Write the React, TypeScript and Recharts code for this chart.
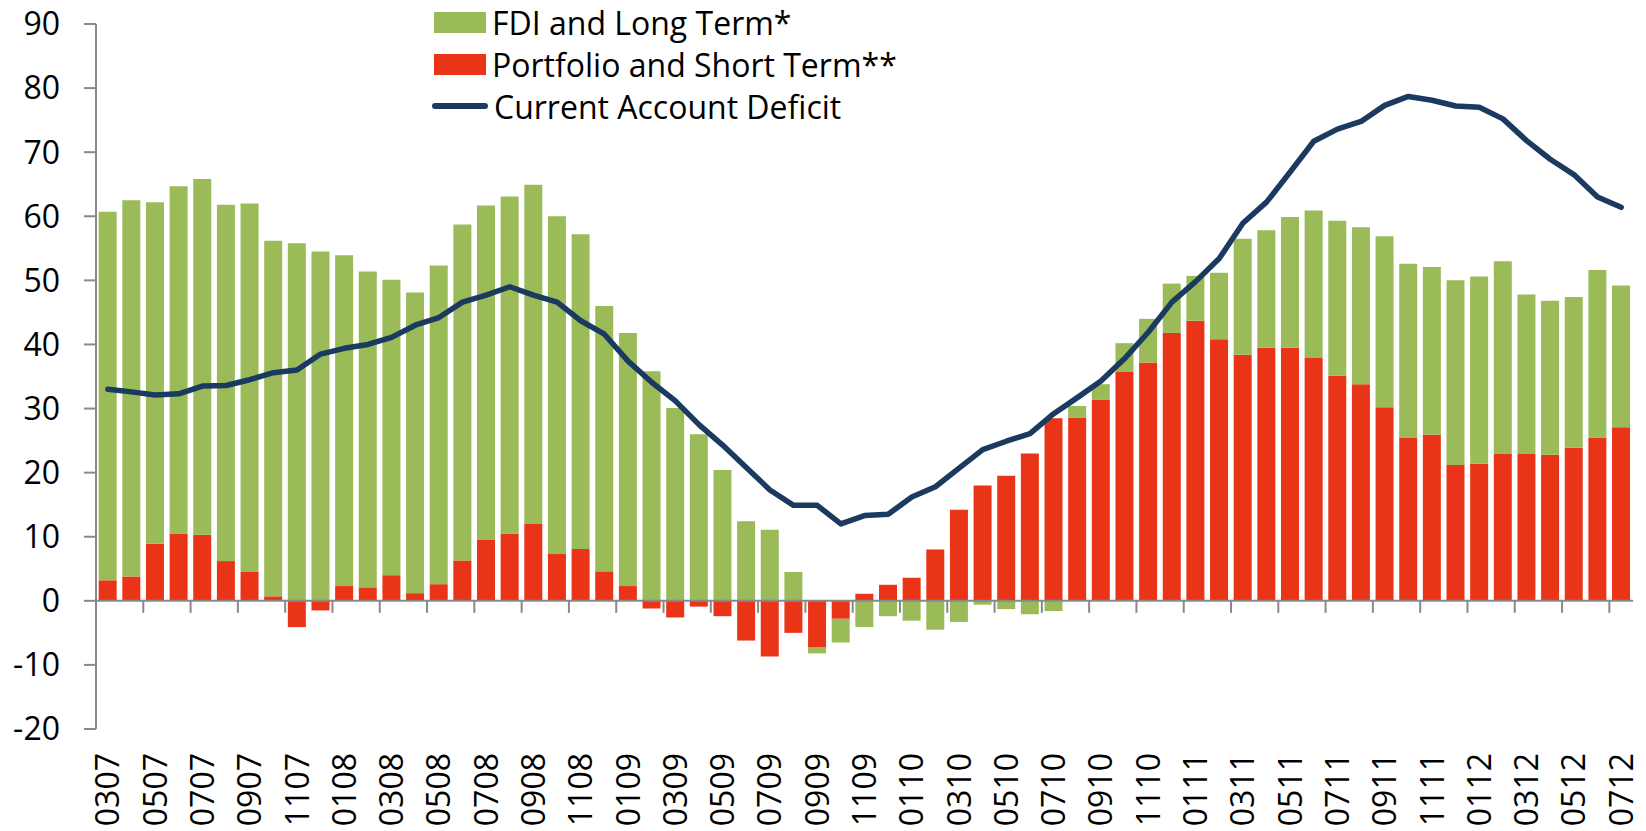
import { Bar, ComposedChart, Legend, Line, ReferenceLine, XAxis, YAxis } from 'recharts'

// month codes, MMYY, March 2007 to July 2012
const months = [
  '0307', '0407', '0507', '0607', '0707', '0807', '0907', '1007', '1107', '1207',
  '0108', '0208', '0308', '0408', '0508', '0608', '0708', '0808', '0908', '1008', '1108', '1208',
  '0109', '0209', '0309', '0409', '0509', '0609', '0709', '0809', '0909', '1009', '1109', '1209',
  '0110', '0210', '0310', '0410', '0510', '0610', '0710', '0810', '0910', '1010', '1110', '1210',
  '0111', '0211', '0311', '0411', '0511', '0611', '0711', '0811', '0911', '1011', '1111', '1211',
  '0112', '0212', '0312', '0412', '0512', '0612', '0712',
]

const fdiLongTerm = [
  57.5, 58.7, 53.3, 54.2, 55.5, 55.6, 57.5, 55.5, 55.8, 54.5,
  51.6, 49.3, 46.1, 46.9, 49.7, 52.4, 52.2, 52.6, 52.9, 52.7, 49.1, 41.4,
  39.5, 35.8, 30.1, 26.0, 20.4, 12.4, 11.1, 4.5, -0.9, -3.7, -4.1, -2.4,
  -3.1, -4.5, -3.3, -0.6, -1.3, -2.1, -1.6, 1.8, 2.4, 4.5, 6.8, 7.7,
  7.0, 10.4, 18.1, 18.3, 20.4, 23.0, 24.2, 24.5, 26.7, 27.2, 26.2, 28.8,
  29.2, 30.1, 24.9, 24.0, 23.5, 26.1, 22.1,
]

const portfolioShortTerm = [
  3.2, 3.8, 8.9, 10.5, 10.3, 6.2, 4.5, 0.7, -4.1, -1.5,
  2.3, 2.1, 4.0, 1.2, 2.6, 6.3, 9.5, 10.5, 12.0, 7.3, 8.1, 4.6,
  2.3, -1.2, -2.6, -0.9, -2.4, -6.2, -8.7, -5.0, -7.3, -2.8, 1.1, 2.5,
  3.6, 8.0, 14.2, 18.0, 19.5, 23.0, 28.5, 28.6, 31.4, 35.7, 37.2, 41.8,
  43.7, 40.8, 38.4, 39.5, 39.5, 37.9, 35.1, 33.8, 30.2, 25.4, 25.9, 21.2,
  21.4, 22.9, 22.9, 22.8, 23.9, 25.5, 27.1,
]

const currentAccountDeficit = [
  33.0, 32.6, 32.1, 32.3, 33.5, 33.6, 34.5, 35.6, 36.0, 38.5,
  39.4, 40.0, 41.1, 43.0, 44.2, 46.6, 47.7, 49.0, 47.7, 46.6, 43.7, 41.6,
  37.4, 34.1, 31.2, 27.5, 24.3, 20.8, 17.3, 14.9, 14.9, 12.0, 13.3, 13.5,
  16.2, 17.8, 20.7, 23.6, 24.9, 26.1, 29.2, 31.7, 34.3, 37.8, 41.9, 46.6,
  49.8, 53.4, 58.9, 62.2, 66.9, 71.7, 73.6, 74.8, 77.3, 78.7, 78.1, 77.2,
  77.0, 75.2, 71.8, 68.9, 66.5, 63.0, 61.4,
]

const yTicks = [-20, -10, 0, 10, 20, 30, 40, 50, 60, 70, 80, 90]

const GREEN = '#9BBB59'
const RED = '#EA3418'
const NAVY = '#1A3A60'
const AXIS = '#898989'

const chartData = months.map((month, i) => ({
  month,
  fdi: fdiLongTerm[i],
  portfolio: portfolioShortTerm[i],
  cad: currentAccountDeficit[i],
}))

const legendItems = [
  { label: 'FDI and Long Term*', color: GREEN, kind: 'box' },
  { label: 'Portfolio and Short Term**', color: RED, kind: 'box' },
  { label: 'Current Account Deficit', color: NAVY, kind: 'line' },
]

function MonthTick({ x, y, payload }: any) {
  const ty = y + 24
  return (
    <text
      x={x}
      y={ty}
      transform={`rotate(-90 ${x} ${ty})`}
      textAnchor='end'
      dy='0.36em'
      fontSize={32}
      fill='#000'
    >
      {payload.value}
    </text>
  )
}

// the zero line doubles as the category axis; marks every two months
function ZeroAxis(props: any) {
  const { x1, x2, y1 } = props
  const band = (x2 - x1) / months.length
  const marks = []
  for (let k = 0; k < months.length; k += 2) marks.push(x1 + k * band)
  return (
    <g>
      <line x1={x1} y1={y1} x2={x2} y2={y1} stroke={AXIS} strokeWidth={2} />
      {marks.map((mx) => (
        <line key={mx} x1={mx} y1={y1} x2={mx} y2={y1 + 12} stroke={AXIS} strokeWidth={2} />
      ))}
    </g>
  )
}

function LegendBox() {
  return (
    <div style={{ fontSize: 32, color: '#000' }}>
      {legendItems.map((item) => (
        <div key={item.label} style={{ display: 'flex', alignItems: 'center', height: 42 }}>
          {item.kind === 'box' ? (
            <div style={{ width: 52, height: 21, background: item.color, marginLeft: 2 }} />
          ) : (
            <svg width={56} height={10}>
              <line x1={3} y1={5} x2={53} y2={5} stroke={item.color} strokeWidth={6} strokeLinecap='round' />
            </svg>
          )}
          <span style={{ marginLeft: 6, whiteSpace: 'nowrap' }}>{item.label}</span>
        </div>
      ))}
    </div>
  )
}

export default function App() {
  return (
    <div style={{ position: 'absolute', left: 0, top: 0, fontFamily: '"Open Sans", sans-serif' }}>
      <ComposedChart
        width={1646}
        height={831}
        data={chartData}
        margin={{ top: 24, right: 13, left: 0, bottom: 0 }}
        stackOffset='sign'
        barCategoryGap='11.3%'
      >
        <XAxis
          dataKey='month'
          interval={1}
          height={102}
          axisLine={false}
          tickLine={false}
          tickSize={0}
          tickMargin={0}
          tick={<MonthTick />}
        />
        <YAxis
          type='number'
          domain={[-20, 90]}
          ticks={yTicks}
          interval={0}
          width={96}
          tickSize={12}
          tickMargin={24}
          axisLine={{ stroke: AXIS, strokeWidth: 2 }}
          tickLine={{ stroke: AXIS, strokeWidth: 2 }}
          tick={{ fill: '#000', fontSize: 32 }}
        />
        <Legend
          layout='vertical'
          align='center'
          verticalAlign='middle'
          wrapperStyle={{ left: 432, top: 1, width: 470 }}
          content={<LegendBox />}
        />
        <Bar dataKey='portfolio' stackId='flows' fill={RED} isAnimationActive={false} />
        <Bar dataKey='fdi' stackId='flows' fill={GREEN} isAnimationActive={false} />
        <ReferenceLine y={0} stroke={AXIS} shape={<ZeroAxis />} />
        <Line
          type='linear'
          dataKey='cad'
          stroke={NAVY}
          strokeWidth={5.5}
          strokeLinecap='round'
          strokeLinejoin='round'
          dot={false}
          activeDot={false}
          isAnimationActive={false}
        />
      </ComposedChart>
    </div>
  )
}
